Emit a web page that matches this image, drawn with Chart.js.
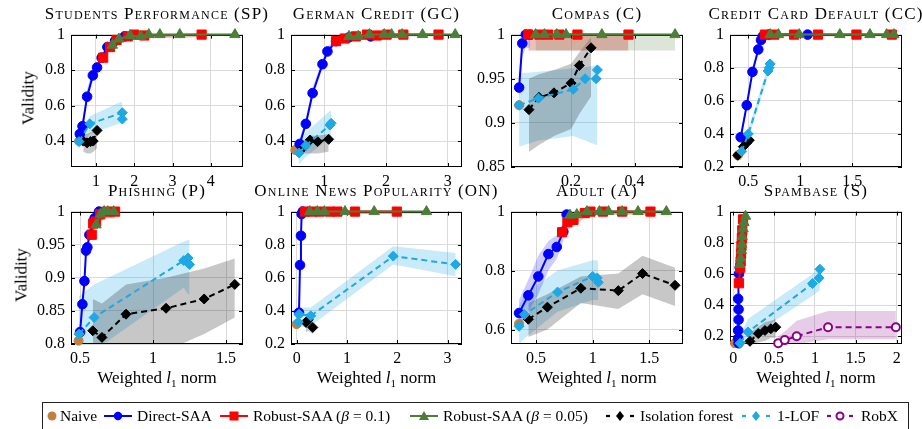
<!DOCTYPE html>
<html>
<head>
<meta charset="utf-8">
<script src="https://cdn.jsdelivr.net/npm/chart.js@4.4.0/dist/chart.umd.min.js"></script>
<style>
  body { margin: 0; width: 922px; height: 429px; position: relative; overflow: hidden; background: #fff; font-family: 'Liberation Serif', serif; color: #000; }
  canvas { position: absolute; }
  .title { position: absolute; font-size: 17px; line-height: 17px; font-variant: small-caps; letter-spacing: 1.2px; text-align: center; white-space: nowrap; }
  .ylab { position: absolute; font-size: 17px; line-height: 17px; white-space: nowrap; transform: translate(-50%, -50%) rotate(-90deg); }
  .xlab { position: absolute; font-size: 17px; line-height: 17px; text-align: center; white-space: nowrap; }
  .legend-box { position: absolute; left: 42px; top: 402px; width: 865px; height: 40px; border: 1px solid #222; }
  .leg { position: absolute; top: 408px; font-size: 15.5px; line-height: 16px; white-space: nowrap; }
  svg { position: absolute; left: 0; top: 0; }
</style>
</head>
<body>
<script>
// tick labels
const spXTicks = [1, 2, 3, 4], spYTicks = [0.4, 0.6, 0.8, 1];
const gcXTicks = [1, 2, 3], gcYTicks = [0.4, 0.6, 0.8, 1];
const cXTicks = [0.2, 0.4], cYTicks = [0.85, 0.9, 0.95, 1];
const ccXTicks = [0.5, 1, 1.5], ccYTicks = [0.2, 0.4, 0.6, 0.8, 1];
const pXTicks = [0.5, 1, 1.5], pYTicks = [0.8, 0.85, 0.9, 0.95, 1];
const onXTicks = [0, 1, 2, 3], onYTicks = [0.2, 0.4, 0.6, 0.8, 1];
const aXTicks = [0.5, 1, 1.5], aYTicks = [0.6, 0.8, 1];
const sXTicks = [0, 0.5, 1, 1.5, 2], sYTicks = [0.2, 0.4, 0.6, 0.8, 1];

// rows: [weighted l1 norm, validity, band low, band high]
// Students Performance
const spNaive = [[0.56, 0.40]];
const spDirect = [[0.58, 0.44, 0.41, 0.47], [0.65, 0.484, 0.45, 0.52], [0.77, 0.65, 0.61, 0.69], [0.92, 0.77, 0.74, 0.80], [1.03, 0.815, 0.79, 0.84], [1.15, 0.87, 0.85, 0.89], [1.3, 0.93, 0.91, 0.95], [1.5, 0.965, 0.95, 0.98], [1.75, 0.99, 0.98, 1]];
const spRobust1 = [[1.19, 0.87, 0.85, 0.89], [1.37, 0.93, 0.91, 0.95], [1.54, 0.97, 0.95, 0.985], [1.83, 0.99, 0.975, 1], [2.0, 1, 0.98, 1], [2.26, 0.995, 0.98, 1], [3.76, 1, 0.985, 1]];
const spRobust2 = [[1.43, 0.94, 0.92, 0.96], [1.6, 0.975, 0.96, 0.99], [1.89, 0.995, 0.98, 1], [2.17, 0.99, 0.98, 1], [2.38, 1, 0.985, 1], [2.67, 1, 0.985, 1], [3.19, 1, 0.99, 1], [4.63, 1, 0.99, 1]];
const spIso = [[0.67, 0.40, 0.34, 0.44], [0.77, 0.39, 0.33, 0.44], [0.86, 0.397, 0.33, 0.45], [0.93, 0.40, 0.34, 0.45], [1.03, 0.46, 0.36, 0.47]];
const spLof = [[0.56, 0.397, 0.36, 0.44], [0.84, 0.497, 0.44, 0.54], [1.69, 0.56, 0.505, 0.624], [1.69, 0.524, 0.505, 0.624]];
// German Credit
const gcNaive = [[0.53, 0.35]];
const gcDirect = [[0.6, 0.384, 0.36, 0.41], [0.70, 0.497, 0.47, 0.53], [0.81, 0.67, 0.64, 0.70], [0.97, 0.833, 0.81, 0.86], [1.05, 0.905, 0.88, 0.93], [1.19, 0.963, 0.95, 0.98], [1.4, 0.985, 0.97, 1], [1.75, 0.99, 0.98, 1]];
const gcRobust1 = [[1.19, 0.963, 0.95, 0.975], [1.33, 0.978, 0.965, 0.99], [1.51, 0.99, 0.98, 1], [1.69, 1, 0.985, 1], [1.85, 0.995, 0.985, 1], [2.01, 1, 0.99, 1], [2.28, 1, 0.99, 1], [2.85, 1, 0.99, 1]];
const gcRobust2 = [[1.40, 0.99, 0.98, 1], [1.55, 0.99, 0.98, 1], [1.73, 1, 0.985, 1], [1.97, 1, 0.99, 1], [2.09, 1, 0.99, 1], [2.26, 1, 0.99, 1], [2.59, 1, 0.99, 1], [3.12, 1, 0.99, 1]];
const gcIso = [[0.65, 0.36, 0.33, 0.40], [0.77, 0.406, 0.33, 0.43], [0.89, 0.397, 0.33, 0.43], [1.07, 0.41, 0.34, 0.44]];
const gcLof = [[0.59, 0.333, 0.27, 0.40], [0.70, 0.375, 0.31, 0.45], [1.09, 0.49, 0.42, 0.57], [1.11, 0.50, 0.43, 0.57]];
// Compas
const cNaive = [[0.036, 0.92]];
const cDirect = [[0.036, 0.94, 0.925, 0.955], [0.046, 0.99, 0.975, 1], [0.057, 1, 0.985, 1], [0.07, 1, 0.985, 1]];
const cRobust1 = [[0.065, 1, 0.982, 1], [0.10, 1, 0.982, 1], [0.128, 1, 0.982, 1], [0.163, 1, 0.982, 1], [0.22, 1, 0.982, 1], [0.381, 1, 0.982, 1]];
const cRobust2 = [[0.088, 1, 0.982, 1], [0.116, 1, 0.982, 1], [0.155, 1, 0.982, 1], [0.184, 1, 0.982, 1], [0.297, 1, 0.982, 1], [0.528, 1, 0.982, 1]];
const cIso = [[0.067, 0.915, 0.867, 0.95], [0.0985, 0.929, 0.875, 0.955], [0.146, 0.934, 0.885, 0.96], [0.2, 0.945, 0.893, 0.967], [0.226, 0.965, 0.91, 0.98], [0.263, 0.985, 0.93, 0.997]];
const cLof = [[0.036, 0.92, 0.873, 0.956], [0.097, 0.928, 0.88, 0.958], [0.207, 0.938, 0.885, 0.962], [0.244, 0.95, 0.88, 0.963], [0.279, 0.95, 0.875, 0.965], [0.283, 0.96, 0.875, 0.966]];
// Credit Card Default
const ccNaive = [[0.40, 0.27]];
const ccDirect = [[0.427, 0.38, 0.36, 0.40], [0.485, 0.573, 0.55, 0.60], [0.54, 0.775, 0.75, 0.80], [0.596, 0.91, 0.89, 0.93], [0.622, 0.967, 0.95, 0.98], [0.64, 0.99, 0.98, 1], [0.7, 1, 0.99, 1], [1.07, 1, 0.99, 1]];
const ccRobust1 = [[0.66, 1, 0.99, 1], [0.75, 1, 0.99, 1], [0.94, 1, 0.99, 1], [1.17, 1, 0.99, 1], [1.54, 1, 0.99, 1], [1.88, 1, 0.99, 1]];
const ccRobust2 = [[0.71, 1, 0.99, 1], [0.79, 1, 0.99, 1], [0.99, 1, 0.99, 1], [1.38, 1, 0.99, 1], [1.67, 1, 0.99, 1], [1.83, 1, 0.99, 1], [1.90, 1, 0.99, 1]];
const ccIso = [[0.398, 0.271, 0.25, 0.29], [0.452, 0.323, 0.30, 0.35], [0.485, 0.346, 0.32, 0.37], [0.51, 0.362, 0.34, 0.38]];
const ccLof = [[0.436, 0.294, 0.27, 0.32], [0.5, 0.40, 0.37, 0.43], [0.69, 0.78, 0.75, 0.81], [0.70, 0.80, 0.77, 0.83], [0.71, 0.823, 0.79, 0.84]];
// Phishing
const pNaive = [[0.49, 0.805]];
const pDirect = [[0.5, 0.818, 0.81, 0.83], [0.516, 0.86, 0.85, 0.87], [0.53, 0.895, 0.885, 0.905], [0.541, 0.941, 0.93, 0.95], [0.55, 0.946, 0.935, 0.955], [0.564, 0.965, 0.955, 0.975], [0.6, 0.99, 0.98, 1], [0.63, 1, 0.99, 1]];
const pRobust1 = [[0.58, 0.965, 0.955, 0.975], [0.59, 0.982, 0.97, 0.99], [0.61, 0.985, 0.975, 0.995], [0.637, 0.996, 0.985, 1], [0.68, 1, 0.99, 1], [0.74, 1, 0.99, 1]];
const pRobust2 = [[0.61, 0.98, 0.97, 0.99], [0.64, 0.996, 0.985, 1], [0.665, 1, 0.99, 1], [0.69, 1, 0.99, 1], [0.73, 1, 0.99, 1]];
const pIso = [[0.587, 0.82, 0.79, 0.868], [0.65, 0.81, 0.79, 0.861], [0.815, 0.845, 0.79, 0.89], [1.089, 0.854, 0.79, 0.9], [1.35, 0.868, 0.815, 0.914], [1.56, 0.89, 0.84, 0.929]];
const pLof = [[0.493, 0.815, 0.79, 0.872], [0.596, 0.84, 0.79, 0.89], [1.21, 0.926, 0.885, 0.955], [1.24, 0.93, 0.875, 0.957], [1.25, 0.92, 0.875, 0.957]];
// Online News Popularity
const onNaive = [[0.0, 0.32]];
const onDirect = [[0.046, 0.389, 0.37, 0.41], [0.066, 0.677, 0.65, 0.70], [0.085, 0.854, 0.83, 0.88], [0.099, 0.985, 0.97, 1], [0.12, 1, 0.99, 1]];
const onRobust1 = [[0.165, 1, 0.985, 1], [0.3, 1, 0.985, 1], [0.46, 1, 0.985, 1], [0.66, 1, 0.985, 1], [0.81, 1, 0.985, 1], [1.16, 1, 0.985, 1], [1.99, 1, 0.985, 1]];
const onRobust2 = [[0.26, 1, 0.985, 1], [0.41, 1, 0.985, 1], [0.55, 1, 0.985, 1], [0.96, 1, 0.985, 1], [1.54, 1, 0.985, 1], [2.58, 1, 0.985, 1]];
const onIso = [[0.185, 0.33, 0.27, 0.38], [0.23, 0.346, 0.28, 0.39], [0.32, 0.30, 0.26, 0.36]];
const onLof = [[0.03, 0.332, 0.29, 0.42], [0.046, 0.38, 0.30, 0.42], [0.28, 0.37, 0.31, 0.42], [1.92, 0.731, 0.68, 0.79], [3.16, 0.681, 0.61, 0.75]];
// Adult
const aNaive = [[0.35, 0.62]];
const aDirect = [[0.35, 0.656, 0.60, 0.70], [0.432, 0.716, 0.66, 0.77], [0.52, 0.78, 0.72, 0.85], [0.609, 0.856, 0.80, 0.90], [0.683, 0.88, 0.84, 0.92], [0.741, 0.932, 0.90, 0.96], [0.77, 0.99, 0.97, 1]];
const aRobust1 = [[0.73, 0.93, 0.91, 0.95], [0.777, 0.964, 0.94, 0.98], [0.83, 0.972, 0.95, 0.99], [0.93, 0.995, 0.98, 1], [0.98, 1, 0.985, 1], [1.09, 1, 0.99, 1], [1.26, 1, 0.99, 1], [1.51, 1, 0.99, 1]];
const aRobust2 = [[0.8, 0.988, 0.975, 1], [0.86, 0.99, 0.98, 1], [0.95, 1, 0.985, 1], [1.06, 1, 0.99, 1], [1.14, 1, 0.99, 1], [1.26, 1, 0.99, 1], [1.4, 1, 0.99, 1], [1.65, 1, 0.99, 1]];
const aIso = [[0.432, 0.635, 0.575, 0.69], [0.6, 0.676, 0.6, 0.72], [0.895, 0.74, 0.69, 0.78], [1.226, 0.732, 0.67, 0.79], [1.44, 0.79, 0.72, 0.85], [1.727, 0.75, 0.68, 0.81]];
const aLof = [[0.35, 0.611, 0.55, 0.68], [0.397, 0.651, 0.57, 0.72], [0.69, 0.727, 0.66, 0.80], [1.0, 0.78, 0.70, 0.835], [1.04, 0.775, 0.70, 0.835], [1.05, 0.76, 0.70, 0.83]];
// Spambase
const sNaive = [[0.02, 0.155]];
const sDirect = [[0.065, 0.155, 0.15, 0.16], [0.06, 0.186, 0.18, 0.19], [0.06, 0.237, 0.23, 0.245], [0.065, 0.306, 0.30, 0.31], [0.065, 0.372, 0.365, 0.38], [0.06, 0.44, 0.43, 0.45], [0.07, 0.6, 0.59, 0.61], [0.08, 0.64, 0.63, 0.65]];
const sRobust1 = [[0.07, 0.54, 0.53, 0.55], [0.085, 0.64, 0.63, 0.65], [0.09, 0.68, 0.67, 0.69], [0.095, 0.73, 0.72, 0.74], [0.1, 0.78, 0.77, 0.79], [0.105, 0.83, 0.82, 0.84], [0.11, 0.88, 0.87, 0.89], [0.12, 0.95, 0.94, 0.96]];
const sRobust2 = [[0.08, 0.66, 0.65, 0.67], [0.09, 0.70, 0.69, 0.71], [0.1, 0.75, 0.74, 0.76], [0.105, 0.79, 0.78, 0.80], [0.11, 0.84, 0.83, 0.85], [0.12, 0.89, 0.88, 0.90], [0.13, 0.93, 0.92, 0.94], [0.15, 0.97, 0.96, 0.98]];
const sIso = [[0.204, 0.167, 0.15, 0.22], [0.306, 0.217, 0.16, 0.26], [0.388, 0.237, 0.17, 0.29], [0.46, 0.248, 0.19, 0.30], [0.52, 0.258, 0.19, 0.31]];
const sLof = [[0.082, 0.155, 0.13, 0.2], [0.18, 0.227, 0.186, 0.31], [0.97, 0.538, 0.46, 0.60], [1.05, 0.573, 0.49, 0.64], [1.06, 0.63, 0.497, 0.652]];
const sRobx = [[0.55, 0.155, 0.12, 0.2], [0.63, 0.175, 0.13, 0.23], [0.776, 0.2, 0.15, 0.3], [1.16, 0.258, 0.18, 0.362], [1.99, 0.258, 0.18, 0.362]];

const serif = "'Liberation Serif', serif";

const STYLE = {
  naive: { color: '#c08040', point: 'circle', r: 4.5, line: 0, order: 7 },
  direct: { color: '#0000ff', point: 'circle', r: 4.8, line: 2, order: 6, band: 'rgba(0,0,255,0.2)' },
  r1: { color: '#ff0000', point: 'rect', r: 6.5, line: 2, order: 5, band: 'rgba(190,60,40,0.32)' },
  r2: { color: '#4e7d3a', point: 'triangle', r: 6, line: 2, order: 4, band: 'rgba(79,125,58,0.2)' },
  iso: { color: '#000000', point: 'rectRot', r: 5, line: 2, dash: [6, 4], order: 3, band: 'rgba(0,0,0,0.22)' },
  lof: { color: '#1ea8e4', point: 'rectRot', r: 5, line: 2, dash: [6, 4], order: 2, band: 'rgba(40,170,230,0.25)' },
  robx: { color: '#8b008b', point: 'circle', r: 4, line: 2, dash: [6, 4], order: 1, band: 'rgba(128,0,128,0.2)', hollow: true }
};

const panels = [
  { title: 'Students Performance (SP)', box: [71, 29, 243, 167], x: [0.35, 4.84], y: [0.254, 1], xt: spXTicks, yt: spYTicks, ylab: 28,
    s: { naive: spNaive, direct: spDirect, r1: spRobust1, r2: spRobust2, iso: spIso, lof: spLof } },
  { title: 'German Credit (GC)', box: [291, 29, 462, 167], x: [0.46, 3.23], y: [0.254, 1], xt: gcXTicks, yt: gcYTicks,
    s: { naive: gcNaive, direct: gcDirect, r1: gcRobust1, r2: gcRobust2, iso: gcIso, lof: gcLof } },
  { title: 'Compas (C)', box: [511, 29, 683, 167], x: [0.0104, 0.553], y: [0.85, 1], xt: cXTicks, yt: cYTicks,
    s: { naive: cNaive, direct: cDirect, r1: cRobust1, r2: cRobust2, iso: cIso, lof: cLof } },
  { title: 'Credit Card Default (CC)', box: [730, 29, 902, 167], x: [0.324, 1.978], y: [0.2, 1], xt: ccXTicks, yt: ccYTicks,
    s: { naive: ccNaive, direct: ccDirect, r1: ccRobust1, r2: ccRobust2, iso: ccIso, lof: ccLof } },
  { title: 'Phishing (P)', box: [71, 206, 243, 344], x: [0.438, 1.616], y: [0.8, 1], xt: pXTicks, yt: pYTicks, ylab: 21, xlab: true,
    s: { naive: pNaive, direct: pDirect, r1: pRobust1, r2: pRobust2, iso: pIso, lof: pLof } },
  { title: 'Online News Popularity (ON)', box: [291, 206, 462, 344], x: [-0.113, 3.286], y: [0.2, 1], xt: onXTicks, yt: onYTicks, xlab: true,
    s: { naive: onNaive, direct: onDirect, r1: onRobust1, r2: onRobust2, iso: onIso, lof: onLof } },
  { title: 'Adult (A)', box: [511, 206, 683, 344], x: [0.279, 1.797], y: [0.551, 1], xt: aXTicks, yt: aYTicks, xlab: true,
    s: { naive: aNaive, direct: aDirect, r1: aRobust1, r2: aRobust2, iso: aIso, lof: aLof } },
  { title: 'Spambase (S)', box: [730, 206, 902, 344], x: [-0.04, 2.065], y: [0.15, 1], xt: sXTicks, yt: sYTicks, xlab: true,
    s: { naive: sNaive, direct: sDirect, r1: sRobust1, r2: sRobust2, iso: sIso, lof: sLof, robx: sRobx } }
];

const fmt = v => String(+v.toFixed(3));

// black frame with pgfplots-style inward ticks
const framePlugin = {
  id: 'frame',
  beforeDatasetsDraw(chart) {
    const { ctx, chartArea: a, scales } = chart;
    ctx.save();
    ctx.strokeStyle = '#000';
    ctx.lineWidth = 1;
    ctx.beginPath();
    scales.x.ticks.forEach(t => {
      const px = Math.round(scales.x.getPixelForValue(t.value)) + 0.5;
      ctx.moveTo(px, a.bottom); ctx.lineTo(px, a.bottom - 4);
      ctx.moveTo(px, a.top); ctx.lineTo(px, a.top + 4);
    });
    scales.y.ticks.forEach(t => {
      const py = Math.round(scales.y.getPixelForValue(t.value)) + 0.5;
      ctx.moveTo(a.left, py); ctx.lineTo(a.left + 4, py);
      ctx.moveTo(a.right, py); ctx.lineTo(a.right - 4, py);
    });
    ctx.stroke();
    ctx.strokeRect(Math.round(a.left) + 0.5, Math.round(a.top) + 0.5, Math.round(a.right - a.left) - 1, Math.round(a.bottom - a.top) - 1);
    ctx.restore();
  }
};

function seriesSets(key, rows) {
  const st = STYLE[key];
  const out = [];
  out.push({
    data: rows.map(r => ({ x: r[0], y: r[1] })),
    borderColor: st.color,
    borderWidth: st.line,
    borderDash: st.dash || [],
    showLine: st.line > 0,
    fill: false,
    pointStyle: st.point,
    pointRadius: st.r,
    pointBackgroundColor: st.hollow ? '#ffffff' : st.color,
    pointBorderColor: st.color,
    pointBorderWidth: st.hollow ? 2 : 1,
    tension: 0,
    clip: 10,
    order: st.order
  });
  if (st.band && rows[0].length > 2) {
    out.push({
      data: rows.map(r => ({ x: r[0], y: r[3] })),
      borderWidth: 0, pointRadius: 0, fill: '+1', backgroundColor: st.band, order: 50
    });
    out.push({
      data: rows.map(r => ({ x: r[0], y: r[2] })),
      borderWidth: 0, pointRadius: 0, fill: false, order: 50
    });
  }
  return out;
}

function makePanel(p) {
  const [L, T, R, B] = p.box;
  const padL = 52, padT = 10, padR = 14, padB = 26;
  const cv = document.createElement('canvas');
  cv.width = R - L + padL + padR;
  cv.height = B - T + padT + padB;
  cv.style.left = (L - padL) + 'px';
  cv.style.top = (T - padT) + 'px';
  document.body.appendChild(cv);

  let datasets = [];
  ['naive', 'direct', 'r1', 'r2', 'iso', 'lof', 'robx'].forEach(k => {
    if (p.s[k]) datasets = datasets.concat(seriesSets(k, p.s[k]));
  });

  new Chart(cv, {
    type: 'line',
    data: { datasets },
    options: {
      responsive: false,
      devicePixelRatio: 1,
      animation: false,
      events: [],
      layout: { autoPadding: false, padding: { left: 0, top: padT, right: padR, bottom: 0 } },
      plugins: { legend: { display: false }, tooltip: { enabled: false }, filler: { drawTime: 'beforeDatasetsDraw' } },
      scales: {
        x: {
          type: 'linear', min: p.x[0], max: p.x[1],
          afterFit: s => { s.height = padB; },
          afterBuildTicks: s => { s.ticks = p.xt.map(v => ({ value: v })); },
          grid: { color: '#dadada', lineWidth: 1, drawTicks: false },
          border: { display: false },
          ticks: { callback: v => fmt(v), font: { family: serif, size: 16 }, color: '#000', padding: 5, maxRotation: 0, autoSkip: false }
        },
        y: {
          type: 'linear', min: p.y[0], max: p.y[1],
          afterFit: s => { s.width = padL; },
          afterBuildTicks: s => { s.ticks = p.yt.map(v => ({ value: v })); },
          grid: { color: '#dadada', lineWidth: 1, drawTicks: false },
          border: { display: false },
          ticks: { callback: v => fmt(v), font: { family: serif, size: 16 }, color: '#000', padding: 6, autoSkip: false }
        }
      }
    },
    plugins: [framePlugin]
  });

  const t = document.createElement('div');
  t.className = 'title';
  t.textContent = p.title;
  t.style.left = (L - 40) + 'px';
  t.style.width = (R - L + 80) + 'px';
  t.style.top = (T - 24) + 'px';
  document.body.appendChild(t);

  if (p.ylab) {
    const y = document.createElement('div');
    y.className = 'ylab';
    y.textContent = 'Validity';
    y.style.left = p.ylab + 'px';
    y.style.top = ((T + B) / 2) + 'px';
    document.body.appendChild(y);
  }
  if (p.xlab) {
    const x = document.createElement('div');
    x.className = 'xlab';
    x.innerHTML = 'Weighted <i>l</i><sub style="font-size:11px">1</sub> norm';
    x.style.left = L + 'px';
    x.style.width = (R - L) + 'px';
    x.style.top = '369px';
    document.body.appendChild(x);
  }
}

panels.forEach(makePanel);
</script>

<div class="legend-box"></div>
<svg width="922" height="429">
  <circle cx="52" cy="416" r="4.5" fill="#c08040"/>
  <line x1="104" y1="416" x2="132" y2="416" stroke="#0000ff" stroke-width="2"/>
  <circle cx="118" cy="416" r="4.2" fill="#0000ff"/>
  <line x1="220" y1="416" x2="248" y2="416" stroke="#ff0000" stroke-width="2"/>
  <rect x="229.5" y="411.5" width="9" height="9" fill="#ff0000"/>
  <line x1="410" y1="416" x2="438" y2="416" stroke="#4e7d3a" stroke-width="2"/>
  <polygon points="424,411 419,420 429,420" fill="#4e7d3a"/>
  <line x1="606" y1="416" x2="610" y2="416" stroke="#000" stroke-width="2.2"/>
  <line x1="630" y1="416" x2="634" y2="416" stroke="#000" stroke-width="2.2"/>
  <polygon points="620,411 624,416 620,421 616,416" fill="#000"/>
  <line x1="742" y1="416" x2="746" y2="416" stroke="#1ea8e4" stroke-width="2.2"/>
  <line x1="766" y1="416" x2="770" y2="416" stroke="#1ea8e4" stroke-width="2.2"/>
  <polygon points="756,411 760,416 756,421 752,416" fill="#1ea8e4"/>
  <line x1="827" y1="416" x2="831" y2="416" stroke="#8b008b" stroke-width="2.2"/>
  <line x1="849" y1="416" x2="853" y2="416" stroke="#8b008b" stroke-width="2.2"/>
  <circle cx="840" cy="416" r="3.5" fill="#fff" stroke="#8b008b" stroke-width="2"/>
</svg>
<div class="leg" style="left:60px">Naive</div>
<div class="leg" style="left:137px">Direct-SAA</div>
<div class="leg" style="left:253px">Robust-SAA (<i>β</i> = 0.1)</div>
<div class="leg" style="left:443px">Robust-SAA (<i>β</i> = 0.05)</div>
<div class="leg" style="left:640px">Isolation forest</div>
<div class="leg" style="left:777px">1-LOF</div>
<div class="leg" style="left:861px">RobX</div>
</body>
</html>
